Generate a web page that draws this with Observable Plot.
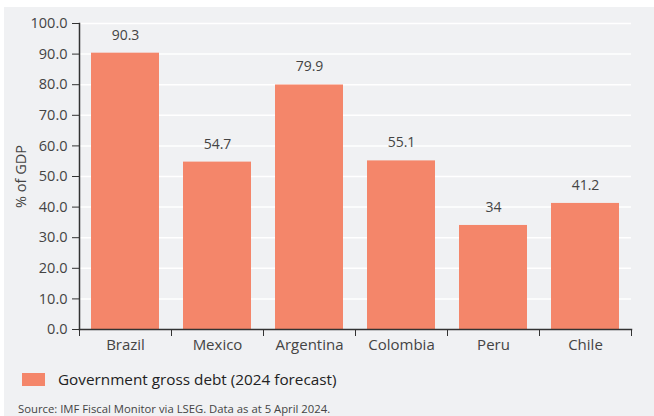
<!DOCTYPE html>
<html>
<head>
<meta charset="utf-8">
<script src="https://cdn.jsdelivr.net/npm/d3@7"></script>
<script src="https://cdn.jsdelivr.net/npm/@observablehq/plot@0.6"></script>
<style>
  html, body { margin: 0; padding: 0; background: #ffffff; width: 654px; height: 416px; overflow: hidden; }
  #panel { position: absolute; left: 4px; top: 7px; width: 650px; height: 409px; background: #f0f1f3; font-family: "Open Sans", sans-serif; }
  #chart { position: absolute; left: 0; top: 0; }
  #legend { position: absolute; left: 18px; top: 362px; display: flex; align-items: center; font-size: 15.3px; color: #222; }
  #legend .sw { width: 23px; height: 13px; background: #f4866a; margin-right: 13px; }
  #source { position: absolute; left: 14px; top: 394px; font-size: 11.3px; color: #444; }
</style>
</head>
<body>
<div id="panel">
  <div id="chart"></div>
  <div id="legend"><div class="sw"></div><span id="legendText"></span></div>
  <div id="source"></div>
</div>
<script>
const categories = ["Brazil", "Mexico", "Argentina", "Colombia", "Peru", "Chile"];
const values = [90.3, 54.7, 79.9, 55.1, 34, 41.2];
const yTicks = [0, 10, 20, 30, 40, 50, 60, 70, 80, 90, 100];
const seriesName = "Government gross debt (2024 forecast)";
const yLabel = "% of GDP";
const sourceText = "Source: IMF Fiscal Monitor via LSEG. Data as at 5 April 2024.";

const data = categories.map((c, i) => ({country: c, value: values[i]}));

const W = 650, H = 350, ML = 75, MR = 23, MT = 16, MB = 28;
const half = (W - ML - MR) / categories.length / 2;
const barColor = "#f4866a";
const axisColor = "#333333";
const textColor = "#444444";

const chart = Plot.plot({
  width: W,
  height: H,
  marginLeft: ML,
  marginRight: MR,
  marginTop: MT,
  marginBottom: MB,
  style: {background: "transparent", fontFamily: "Open Sans, sans-serif", fontSize: "14px", color: textColor},
  x: {domain: categories, padding: 0},
  y: {domain: [0, 100]},
  marks: [
    Plot.gridY(yTicks.filter(d => d > 0), {stroke: "#ffffff", strokeOpacity: 1, strokeWidth: 1.5}),
    Plot.barY(data, {x: "country", y: "value", fill: barColor, insetLeft: 12, insetRight: 12}),
    Plot.text(data, {x: "country", y: "value", text: d => String(d.value), dy: -18, fontSize: 14, fill: textColor}),
    Plot.axisY({ticks: yTicks, tickFormat: d => d.toFixed(1), tickSize: 7, tickPadding: 5, stroke: axisColor, fontSize: 14.5, fill: textColor, label: yLabel, labelAnchor: "center", labelOffset: 64, labelArrow: "none"}),
    Plot.axisX({tickSize: 0, tickPadding: 10, fontSize: 15, fill: textColor, label: null}),
    Plot.axisX({tickSize: 7, text: null, dx: -half, stroke: axisColor, label: null}),
    Plot.axisX({ticks: [categories[categories.length - 1]], tickSize: 7, text: null, dx: half, stroke: axisColor, label: null}),
    Plot.frame({anchor: "left", stroke: axisColor, strokeWidth: 1.5}),
    Plot.frame({anchor: "bottom", stroke: axisColor, strokeWidth: 1.5})
  ]
});
document.getElementById("chart").appendChild(chart);
document.getElementById("legendText").textContent = seriesName;
document.getElementById("source").textContent = sourceText;
</script>
</body>
</html>
